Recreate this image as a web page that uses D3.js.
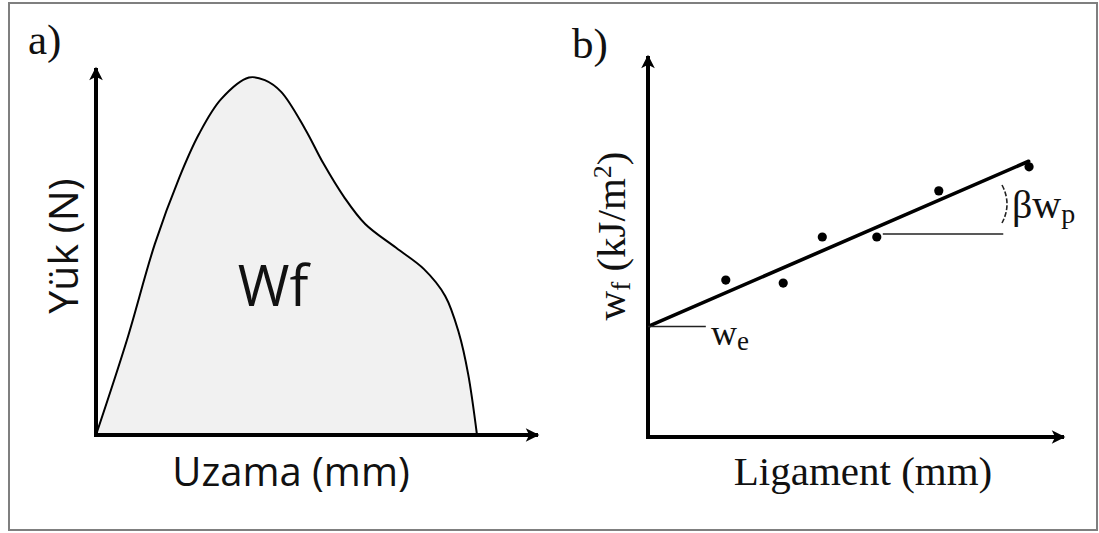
<!DOCTYPE html>
<html>
<head>
<meta charset="utf-8">
<script src="https://cdn.jsdelivr.net/npm/d3@7"></script>
<style>
  html, body { margin: 0; padding: 0; background: #ffffff; }
  svg { display: block; }
</style>
</head>
<body>
<svg id="chart" width="1099" height="533"></svg>
<script>
// Panel a: load–elongation curve (relative units)
const elongation = [0, 7.0, 13.3, 18.8, 23.3, 28.3, 34.6, 38.2, 41.9, 47.3, 51.4, 56.1, 60.9, 67.9, 74.2, 79.0, 82.1, 84.2, 86.2];
const load       = [0, 25.9, 52.0, 70.0, 82.0, 91.5, 97.4, 96.7, 93.5, 83.4, 74.1, 64.9, 57.5, 51.0, 45.2, 37.9, 27.8, 16.6, 0];

// Panel b: specific work of fracture vs ligament length (relative units)
const ligament = [18.7, 32.5, 41.9, 55.0, 69.9, 91.6];
const workOfFracture = [41.2, 40.4, 52.5, 52.5, 64.6, 70.9];
const essentialWork = 29.0;   // intercept w_e
const plasticSlope = 0.474;   // slope βw_p
const fitEnd = 91.5;

const svg = d3.select("#chart");

// outer frame
svg.append("rect")
  .attr("x", 9).attr("y", 3).attr("width", 1088).attr("height", 527)
  .attr("fill", "none").attr("stroke", "#7f7f7f").attr("stroke-width", 2);

// arrowhead marker
const defs = svg.append("defs");
defs.append("marker")
  .attr("id", "arrow")
  .attr("viewBox", "0 0 10 10")
  .attr("refX", 9).attr("refY", 5)
  .attr("markerWidth", 4).attr("markerHeight", 3.4)
  .attr("markerUnits", "strokeWidth")
  .attr("orient", "auto")
  .append("path")
  .attr("d", "M0,0 L10,5 L0,10 L2.5,5 Z")
  .attr("fill", "#000");

function axes(x0, y0, x1, yTop) {
  svg.append("line")
    .attr("x1", x0).attr("y1", y0 + 2).attr("x2", x0).attr("y2", yTop)
    .attr("stroke", "#000").attr("stroke-width", 4)
    .attr("marker-end", "url(#arrow)");
  svg.append("line")
    .attr("x1", x0 - 2).attr("y1", y0).attr("x2", x1).attr("y2", y0)
    .attr("stroke", "#000").attr("stroke-width", 4)
    .attr("marker-end", "url(#arrow)");
}

/* ---------------- panel a ---------------- */
const xa = d3.scaleLinear().domain([0, 100]).range([96, 538]);
const ya = d3.scaleLinear().domain([0, 100]).range([435, 68]);
const curveData = elongation.map((e, i) => ({ e, f: load[i] }));
const smooth = d3.curveCatmullRom.alpha(0.5);

svg.append("path")
  .datum(curveData)
  .attr("d", d3.area().x(d => xa(d.e)).y0(ya(0)).y1(d => ya(d.f)).curve(smooth))
  .attr("fill", "#f1f1f1");
svg.append("path")
  .datum(curveData)
  .attr("d", d3.line().x(d => xa(d.e)).y(d => ya(d.f)).curve(smooth))
  .attr("fill", "none").attr("stroke", "#000").attr("stroke-width", 2);

axes(xa(0), ya(0), xa(100), ya(100));

svg.append("text")
  .attr("x", 273).attr("y", 306)
  .attr("text-anchor", "middle")
  .attr("font-family", "'Open Sans', 'Noto Sans', sans-serif")
  .attr("font-size", 56)
  .attr("fill", "#111")
  .text("Wf");

svg.append("text")
  .attr("transform", "translate(78,246) rotate(-90)")
  .attr("text-anchor", "middle")
  .attr("font-family", "'Open Sans', 'Noto Sans', sans-serif")
  .attr("font-size", 41)
  .attr("fill", "#111")
  .text("Yük (N)");

svg.append("text")
  .attr("x", 291).attr("y", 486)
  .attr("text-anchor", "middle")
  .attr("font-family", "'Open Sans', 'Noto Sans', sans-serif")
  .attr("font-size", 40)
  .attr("fill", "#111")
  .text("Uzama (mm)");

svg.append("text")
  .attr("x", 28).attr("y", 54)
  .attr("font-family", "'Liberation Serif', 'Times New Roman', serif")
  .attr("font-size", 43)
  .attr("fill", "#111")
  .text("a)");

/* ---------------- panel b ---------------- */
const xb = d3.scaleLinear().domain([0, 100]).range([648, 1064]);
const yb = d3.scaleLinear().domain([0, 100]).range([437, 56]);

axes(xb(0), yb(0), xb(100), yb(100));

// fitted line w_f = w_e + βw_p · L
svg.append("line")
  .attr("x1", xb(0) + 2).attr("y1", yb(essentialWork + plasticSlope * 0.5))
  .attr("x2", xb(fitEnd)).attr("y2", yb(essentialWork + plasticSlope * fitEnd))
  .attr("stroke", "#000").attr("stroke-width", 3.6).attr("stroke-linecap", "round");

svg.selectAll("circle.pt")
  .data(ligament.map((l, i) => ({ l, w: workOfFracture[i] })))
  .join("circle")
  .attr("class", "pt")
  .attr("cx", d => xb(d.l)).attr("cy", d => yb(d.w))
  .attr("r", 4.6).attr("fill", "#000");

// intercept marker
svg.append("line")
  .attr("x1", xb(0)).attr("y1", yb(essentialWork))
  .attr("x2", xb(13.9)).attr("y2", yb(essentialWork))
  .attr("stroke", "#222").attr("stroke-width", 1.6);

const we = svg.append("text")
  .attr("x", 711).attr("y", 345)
  .attr("font-family", "'Liberation Serif', 'Times New Roman', serif")
  .attr("font-size", 36)
  .attr("fill", "#111");
we.append("tspan").text("w");
we.append("tspan").attr("font-size", 27).attr("dy", 5).text("e");

// slope marker
svg.append("line")
  .attr("x1", xb(ligament[3]) + 6).attr("y1", yb(workOfFracture[3]) - 3)
  .attr("x2", xb(85.4)).attr("y2", yb(workOfFracture[3]) - 3)
  .attr("stroke", "#222").attr("stroke-width", 1.6);

svg.append("path")
  .attr("d", "M1002,185 Q1012,204 1002,223")
  .attr("fill", "none").attr("stroke", "#222").attr("stroke-width", 1.6)
  .attr("stroke-dasharray", "5,2");

const bw = svg.append("text")
  .attr("x", 1012).attr("y", 218)
  .attr("font-family", "'Liberation Serif', 'Times New Roman', serif")
  .attr("font-size", 40)
  .attr("fill", "#111");
bw.append("tspan").text("βw");
bw.append("tspan").attr("font-size", 28).attr("dy", 5).text("p");

const yl = svg.append("text")
  .attr("transform", "translate(625,236) rotate(-90)")
  .attr("text-anchor", "middle")
  .attr("font-family", "'Liberation Serif', 'Times New Roman', serif")
  .attr("font-size", 41)
  .attr("fill", "#111");
yl.append("tspan").text("w");
yl.append("tspan").attr("font-size", 27).attr("dy", 5).text("f");
yl.append("tspan").attr("dy", -5).text(" (kJ/m");
yl.append("tspan").attr("font-size", 26).attr("dy", -14).text("2");
yl.append("tspan").attr("dy", 14).text(")");

svg.append("text")
  .attr("x", 863).attr("y", 485)
  .attr("text-anchor", "middle")
  .attr("font-family", "'Liberation Serif', 'Times New Roman', serif")
  .attr("font-size", 41)
  .attr("fill", "#111")
  .text("Ligament (mm)");

svg.append("text")
  .attr("x", 572).attr("y", 58)
  .attr("font-family", "'Liberation Serif', 'Times New Roman', serif")
  .attr("font-size", 43)
  .attr("fill", "#111")
  .text("b)");
</script>
</body>
</html>
